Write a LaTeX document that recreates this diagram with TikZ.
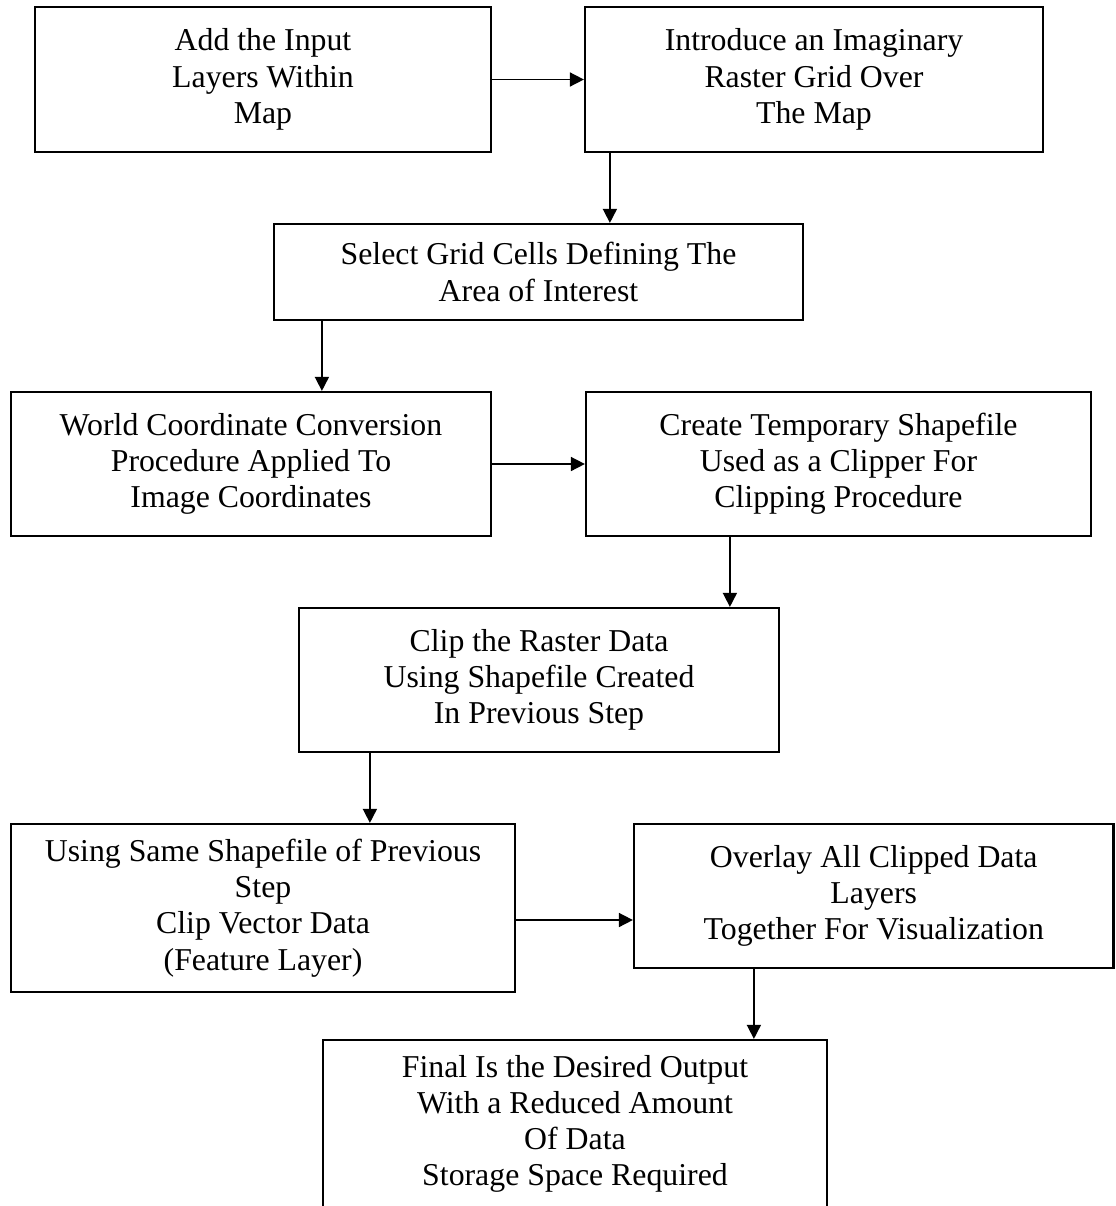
\documentclass[tikz,border=0pt]{standalone}
\usepackage{fontspec}
\setmainfont{Liberation Serif}
\usetikzlibrary{arrows.meta}
\begin{document}
\begin{tikzpicture}[x=0.5pt,y=-0.5pt,
  stepbox/.style={draw, line width=1.1pt, rectangle, inner sep=0pt, align=center,
    font=\fontsize{15.9}{18.1}\selectfont},
  arr/.style={line width=0.8pt, -{Triangle[length=7pt,width=7pt]}}]
\useasboundingbox (0,0) rectangle (1115,1206);
\clip (0,0) rectangle (1115,1206);

% process steps
\node[stepbox, minimum width=228pt, minimum height=72.5pt] (b1) at (263,79.5)
  {Add the Input\\Layers Within\\Map};
\node[stepbox, minimum width=229pt, minimum height=72.5pt] (b2) at (814,79.5)
  {Introduce an Imaginary\\Raster Grid Over\\The Map};
\node[stepbox, minimum width=264.5pt, minimum height=48pt] (b3) at (538.5,272)
  {Select Grid Cells Defining The\\Area of Interest};
\node[stepbox, minimum width=240pt, minimum height=72pt] (b4) at (251,464)
  {World Coordinate Conversion\\Procedure Applied To\\Image Coordinates};
\node[stepbox, minimum width=252.5pt, minimum height=72pt] (b5) at (838.5,464)
  {Create Temporary Shapefile\\Used as a Clipper For\\Clipping Procedure};
\node[stepbox, minimum width=240pt, minimum height=72pt] (b6) at (539,680)
  {Clip the Raster Data\\Using Shapefile Created\\In Previous Step};
\node[stepbox, minimum width=252pt, minimum height=84pt] (b7) at (263,908)
  {Using Same Shapefile of Previous\\Step\\Clip Vector Data\\(Feature Layer)};
\node[stepbox, minimum width=239.75pt, minimum height=72pt] (b8) at (873.75,896)
  {Overlay All Clipped Data\\Layers\\Together For Visualization};
\node[stepbox, minimum width=252pt, minimum height=84pt] (b9) at (575,1124)
  {Final Is the Desired Output\\With a Reduced Amount\\Of Data\\Storage Space Required};

% connector start points
\coordinate (p23) at ([xshift=13pt]b2.south west);
\coordinate (p34) at ([xshift=24.5pt]b3.south west);
\coordinate (p56) at ([xshift=72.5pt]b5.south west);
\coordinate (p67) at ([xshift=36pt]b6.south west);
\coordinate (p78) at ([yshift=-6pt]b7.east);
\coordinate (p89) at ([xshift=60.5pt]b8.south west);

% flow
\draw[arr] (b1.east) -- (b2.west);
\draw[arr] (p23) -- (p23 |- b3.north);
\draw[arr] (p34) -- (p34 |- b4.north);
\draw[arr] (b4.east) -- (b5.west);
\draw[arr] (p56) -- (p56 |- b6.north);
\draw[arr] (p67) -- (p67 |- b7.north);
\draw[arr] (p78) -- (p78 -| b8.west);
\draw[arr] (p89) -- (p89 |- b9.north);
\end{tikzpicture}
\end{document}
